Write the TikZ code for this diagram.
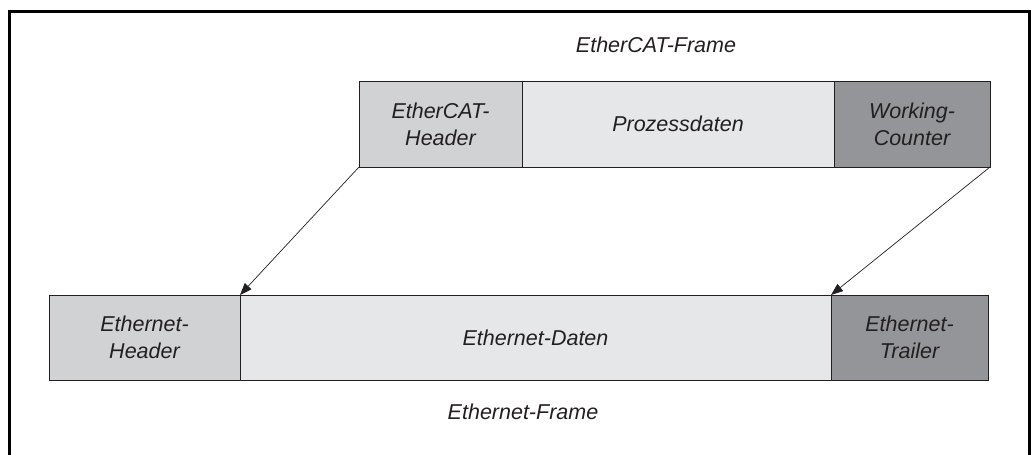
\documentclass[tikz,border=0pt]{standalone}
\usepackage{fontspec}
\setmainfont{Liberation Sans}
\usetikzlibrary{positioning, arrows.meta}
\definecolor{hdrgray}{HTML}{D1D2D4}
\definecolor{datgray}{HTML}{E6E7E8}
\definecolor{trlgray}{HTML}{939598}
\definecolor{edgegray}{HTML}{231F20}

\begin{document}
\begin{tikzpicture}[x=1pt, y=-1pt, font=\fontsize{21.5}{27}\selectfont\itshape,
    field/.style={draw=edgegray, line width=1pt, inner sep=0pt, outer sep=0pt, align=center, anchor=west, text=edgegray},
    conn/.style={draw=edgegray, line width=0.7pt, -{Triangle[length=12pt, width=9pt]}}]
            \useasboundingbox (0,0) rectangle (1031,455);
            \draw[line width=3pt] (9.5,455) -- (9.5,11) -- (1029,11) -- (1029,455);
            % EtherCAT frame
            \node[field, fill=hdrgray, minimum width=163pt, minimum height=86pt] at (359,124) (echead) {EtherCAT-\\Header};
            \node[field, fill=datgray, minimum width=312pt, minimum height=86pt, right=0pt of echead] (prozess) {Prozessdaten};
            \node[field, fill=trlgray, minimum width=156pt, minimum height=86pt, right=0pt of prozess] (wkc) {Working-\\Counter};
            \node[text=edgegray] at (656,45) (ecframe) {EtherCAT-Frame};
            % Ethernet frame
            \node[field, fill=hdrgray, minimum width=191pt, minimum height=85pt] at (49,337.5) (ethhead) {Ethernet-\\Header};
            \node[field, fill=datgray, minimum width=591pt, minimum height=85pt, right=0pt of ethhead] (ethdata) {Ethernet-Daten};
            \node[field, fill=trlgray, minimum width=157pt, minimum height=85pt, right=0pt of ethdata] (ethtrail) {Ethernet-\\Trailer};
            \node[text=edgegray] at (523,412) (ethframe) {Ethernet-Frame};
            \draw[conn] (echead.south west) -- (ethhead.north east);
            \draw[conn] (wkc.south east) -- (ethtrail.north west);
        \end{tikzpicture}
\end{document}
